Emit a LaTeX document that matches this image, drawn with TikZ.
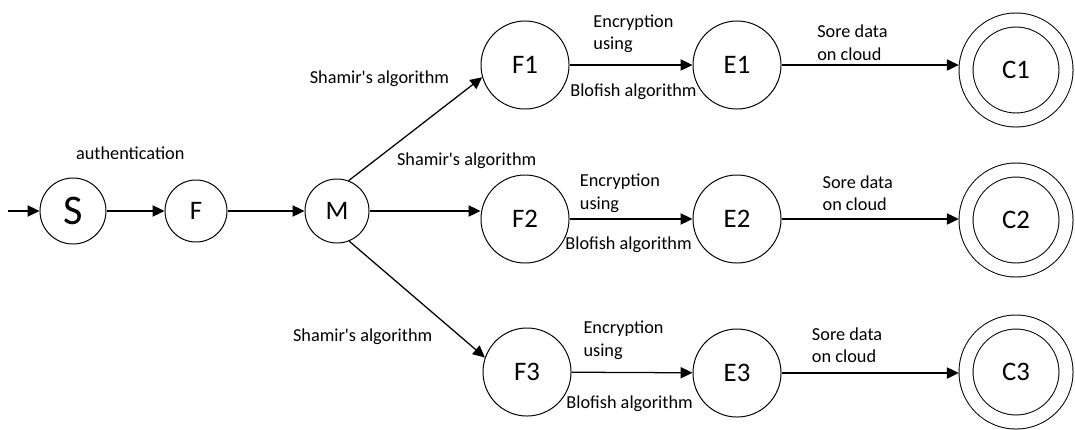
\documentclass[tikz,border=0pt]{standalone}
\usepackage{fontspec}
\setmainfont{Carlito}
\usetikzlibrary{arrows.meta}

\begin{document}
\begin{tikzpicture}[
    x=0.025cm, y=-0.025cm,
    statenode/.style={circle, draw, line width=0.7pt, minimum size=2.2cm, inner sep=0pt, font=\fontsize{19}{22}\selectfont},
    cloudstate/.style={statenode, minimum size=2.5cm, double, double distance=0.325cm, outer sep=0.18cm},
    arr/.style={-{Triangle[length=8.5pt,width=8pt]}, line width=0.9pt},
    lbl/.style={font=\fontsize{13}{16}\selectfont, align=left, inner sep=0pt}
]
\useasboundingbox (0,0) rectangle (1075,429);

% Entry: S, F and M
\node[statenode, minimum size=1.65cm, font=\fontsize{30}{34}\selectfont] (S) at (73,211) {S};
\node[statenode, minimum size=1.55cm] (F) at (196,211) {F};
\node[statenode, minimum size=1.6cm] (M) at (337,211) {M};

% Row 1
\node[statenode] (F1) at (525,65) {F1};
\node[statenode] (E1) at (737,65) {E1};
\node[cloudstate] (C1) at (1016,70) {C1};

% Row 2
\node[statenode] (F2) at (525,219) {F2};
\node[statenode] (E2) at (737,219) {E2};
\node[cloudstate] (C2) at (1016,220) {C2};

% Row 3
\node[statenode] (F3) at (527,372) {F3};
\node[statenode] (E3) at (737,373) {E3};
\node[cloudstate] (C3) at (1016,372) {C3};

\coordinate (in) at (8,211);
\draw[arr] (in) -- (S);
\draw[arr] (S) -- node[lbl, pos=0.41, yshift=1.45cm] (auth) {authentication} (F);
\draw[arr] (F) -- (M);

% splitting the file
\draw[arr] (M.69) -- node[lbl, xshift=-0.9cm, yshift=1.25cm] (sh1) {Shamir\textquotesingle s algorithm} (F1.196);
\draw[arr] (M.east) -- node[lbl, pos=0.875, yshift=1.25cm] (sh2) {Shamir\textquotesingle s algorithm} (M.east -| F2.west);
\draw[arr] (M.-68) -- node[lbl, xshift=-1.36cm, yshift=-0.93cm] (sh3) {Shamir\textquotesingle s algorithm} (F3.161);

% encryption and storage
\draw[arr] (F1) -- node[lbl, pos=0.52, yshift=0.78cm] (enc1) {Encryption\\using}
    node[lbl, pos=0.52, yshift=-0.68cm] (blo1) {Blofish algorithm} (E1);
\draw[arr] (E1) -- node[lbl, pos=0.40, yshift=0.56cm] (sto1) {Sore data\\on cloud} (E1 -| C1.west);

\draw[arr] (F2) -- node[lbl, pos=0.41, yshift=0.64cm] (enc2) {Encryption\\using}
    node[lbl, pos=0.48, yshift=-0.65cm] (blo2) {Blofish algorithm} (E2);
\draw[arr] (E2) -- node[lbl, pos=0.43, yshift=0.65cm] (sto2) {Sore data\\on cloud} (E2 -| C2.west);

\draw[arr] (F3) -- node[lbl, pos=0.43, yshift=0.8cm] (enc3) {Encryption\\using}
    node[lbl, pos=0.48, yshift=-0.78cm] (blo3) {Blofish algorithm} (E3);
\draw[arr] (E3) -- node[lbl, pos=0.37, yshift=0.7cm] (sto3) {Sore data\\on cloud} (E3 -| C3.west);

\end{tikzpicture}
\end{document}
